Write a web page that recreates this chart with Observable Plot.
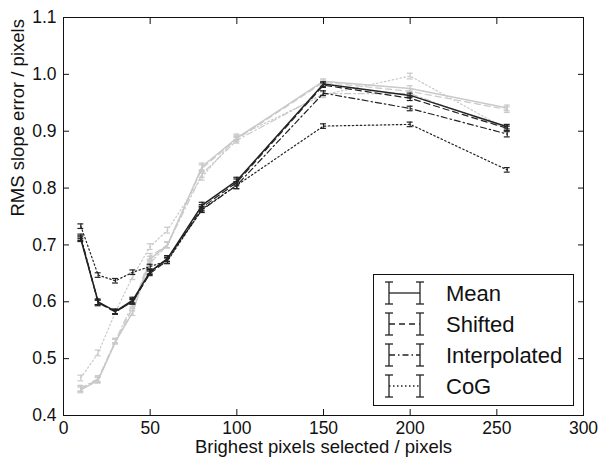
<!DOCTYPE html>
<html><head><meta charset="utf-8">
<script src="https://cdn.jsdelivr.net/npm/d3@7"></script>
<script src="https://cdn.jsdelivr.net/npm/@observablehq/plot@0.6"></script>
<style>
body{margin:0;background:#fff;}
#wrap{position:relative;width:601px;height:461px;font-family:"Liberation Sans",Arial,sans-serif;}
#legend{position:absolute;left:0;top:0;pointer-events:none;}
</style></head><body><div id="wrap"></div>
<script>
// ---- data ----
const xValues = [10, 20, 30, 40, 50, 60, 80, 100, 150, 200, 256];

// black set
const meanBlack    = [0.710, 0.600, 0.583, 0.603, 0.653, 0.676, 0.770, 0.813, 0.983, 0.963, 0.908];
const shiftedBlack = [0.712, 0.598, 0.582, 0.601, 0.650, 0.673, 0.766, 0.810, 0.981, 0.958, 0.905];
const interpBlack  = [0.715, 0.599, 0.583, 0.600, 0.652, 0.676, 0.762, 0.805, 0.967, 0.940, 0.895];
const cogBlack     = [0.733, 0.647, 0.637, 0.652, 0.662, 0.672, 0.763, 0.805, 0.909, 0.912, 0.832];
const errMeanBlack    = [0.004, 0.005, 0.004, 0.005, 0.004, 0.005, 0.005, 0.006, 0.004, 0.004, 0.004];
const errShiftedBlack = [0.004, 0.005, 0.004, 0.005, 0.004, 0.005, 0.005, 0.006, 0.004, 0.004, 0.004];
const errInterpBlack  = [0.004, 0.004, 0.004, 0.004, 0.004, 0.005, 0.005, 0.006, 0.004, 0.004, 0.005];
const errCogBlack     = [0.004, 0.004, 0.004, 0.004, 0.004, 0.005, 0.005, 0.006, 0.004, 0.004, 0.004];

// grey set
const meanGrey    = [0.445, 0.462, 0.530, 0.582, 0.675, 0.700, 0.838, 0.888, 0.988, 0.975, 0.941];
const shiftedGrey = [0.447, 0.463, 0.530, 0.590, 0.680, 0.700, 0.835, 0.886, 0.986, 0.970, 0.938];
const interpGrey  = [0.448, 0.465, 0.532, 0.597, 0.668, 0.700, 0.825, 0.884, 0.966, 0.966, 0.905];
const cogGrey     = [0.466, 0.510, 0.582, 0.645, 0.697, 0.726, 0.820, 0.890, 0.964, 0.997, 0.903];
const errMeanGrey    = [0.005, 0.005, 0.004, 0.006, 0.005, 0.005, 0.006, 0.005, 0.004, 0.005, 0.005];
const errShiftedGrey = [0.005, 0.005, 0.004, 0.006, 0.005, 0.005, 0.006, 0.005, 0.004, 0.005, 0.005];
const errInterpGrey  = [0.005, 0.005, 0.004, 0.006, 0.005, 0.005, 0.006, 0.005, 0.005, 0.005, 0.005];
const errCogGrey     = [0.005, 0.005, 0.004, 0.006, 0.005, 0.005, 0.006, 0.005, 0.005, 0.005, 0.005];

const xTicks = [0, 50, 100, 150, 200, 250, 300];
const yTicks = [0.4, 0.5, 0.6, 0.7, 0.8, 0.9, 1.0, 1.1];
const legendLabels = ["Mean", "Shifted", "Interpolated", "CoG"];
const xTitle = "Brighest pixels selected / pixels";
const yTitle = "RMS slope error / pixels";

// ---- styles ----
const dashes = {Mean: null, Shifted: "6,4", Interpolated: "6,3,1.5,3", CoG: "1.5,2.5"};
const colors = {grey: "#c9c9c9", black: "#222"};

const seriesList = [
  {set: "grey", name: "Mean", values: meanGrey, err: errMeanGrey},
  {set: "grey", name: "Shifted", values: shiftedGrey, err: errShiftedGrey},
  {set: "grey", name: "Interpolated", values: interpGrey, err: errInterpGrey},
  {set: "grey", name: "CoG", values: cogGrey, err: errCogGrey},
  {set: "black", name: "Mean", values: meanBlack, err: errMeanBlack},
  {set: "black", name: "Shifted", values: shiftedBlack, err: errShiftedBlack},
  {set: "black", name: "Interpolated", values: interpBlack, err: errInterpBlack},
  {set: "black", name: "CoG", values: cogBlack, err: errCogBlack}
];

const capHalf = 1.7; // in x data units
const marks = [];
for (const s of seriesList) {
  const rows = xValues.map((x, i) => ({x, y: s.values[i], lo: s.values[i] - s.err[i], hi: s.values[i] + s.err[i]}));
  const c = colors[s.set];
  marks.push(Plot.line(rows, {x: "x", y: "y", stroke: c, strokeWidth: s.name === "Mean" ? 1.5 : 1.2, strokeDasharray: dashes[s.name]}));
  marks.push(Plot.ruleX(rows, {x: "x", y1: "lo", y2: "hi", stroke: c, strokeWidth: 1.2}));
  marks.push(Plot.ruleY(rows, {y: "lo", x1: d => d.x - capHalf, x2: d => d.x + capHalf, stroke: c, strokeWidth: 1.2}));
  marks.push(Plot.ruleY(rows, {y: "hi", x1: d => d.x - capHalf, x2: d => d.x + capHalf, stroke: c, strokeWidth: 1.2}));
}

const chart = Plot.plot({
  width: 601,
  height: 461,
  marginLeft: 63,
  marginRight: 18,
  marginTop: 17,
  marginBottom: 46,
  style: {fontFamily: "'Liberation Sans', Arial, sans-serif", fontSize: "17.5px", color: "#111", background: "#fff"},
  x: {domain: [0, 300]},
  y: {domain: [0.4, 1.1]},
  marks: [
    ...marks,
    Plot.frame({stroke: "#111", strokeWidth: 1}),
    Plot.axisX({anchor: "bottom", ticks: xTicks, tickSize: -6, tickPadding: 12, tickFormat: d3.format("d"), label: null}),
    Plot.axisX({anchor: "top", ticks: xTicks, tickSize: -6, tickFormat: () => "", label: null}),
    Plot.axisY({anchor: "left", ticks: yTicks, tickSize: -6, tickPadding: 13, tickFormat: d3.format(".1f"), label: null}),
    Plot.axisY({anchor: "right", ticks: yTicks, tickSize: -6, tickFormat: () => "", label: null}),
    Plot.text([xTitle], {text: d => d, frameAnchor: "bottom", lineAnchor: "middle", dy: 32, fontSize: 18.5, fill: "#111"}),
    Plot.text([yTitle], {text: d => d, frameAnchor: "left", dx: -45, rotate: -90, fontSize: 18.5, fill: "#111"})
  ]
});
document.getElementById("wrap").appendChild(chart);

// ---- legend ----
const leg = d3.select("#wrap").append("svg").attr("id", "legend").attr("width", 601).attr("height", 461);
leg.append("rect").attr("x", 373.5).attr("y", 274.5).attr("width", 200).attr("height", 131)
  .attr("fill", "#fff").attr("stroke", "#111").attr("stroke-width", 1);
legendLabels.forEach((lab, i) => {
  const cy = 293 + i * 31;
  const g = leg.append("g").attr("stroke", "#222").attr("stroke-width", 1.3);
  for (const ex of [389, 420]) {
    g.append("line").attr("x1", ex).attr("x2", ex).attr("y1", cy - 11).attr("y2", cy + 11);
    g.append("line").attr("x1", ex - 4).attr("x2", ex + 4).attr("y1", cy - 11).attr("y2", cy - 11);
    g.append("line").attr("x1", ex - 4).attr("x2", ex + 4).attr("y1", cy + 11).attr("y2", cy + 11);
  }
  g.append("line").attr("x1", 389).attr("x2", 420).attr("y1", cy).attr("y2", cy)
    .attr("stroke-dasharray", dashes[lab]);
  leg.append("text").attr("x", 446).attr("y", cy).attr("dy", "0.36em")
    .attr("font-size", 22).attr("fill", "#111")
    .attr("font-family", "'Liberation Sans', Arial, sans-serif").text(lab);
});
</script>
</body></html>
